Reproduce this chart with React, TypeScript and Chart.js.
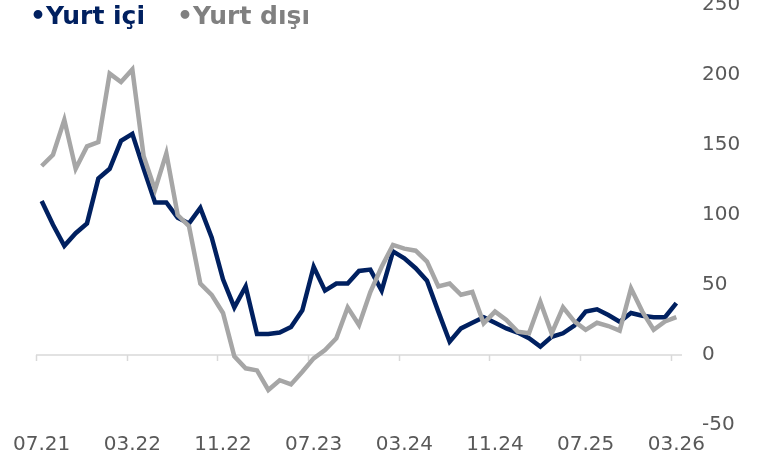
import React, { useEffect, useRef } from "react";
import { Chart, registerables } from "chart.js";

Chart.register(...registerables);

const months: string[] = [
  "07.21", "08.21", "09.21", "10.21", "11.21", "12.21",
  "01.22", "02.22", "03.22", "04.22", "05.22", "06.22", "07.22", "08.22", "09.22", "10.22", "11.22", "12.22",
  "01.23", "02.23", "03.23", "04.23", "05.23", "06.23", "07.23", "08.23", "09.23", "10.23", "11.23", "12.23",
  "01.24", "02.24", "03.24", "04.24", "05.24", "06.24", "07.24", "08.24", "09.24", "10.24", "11.24", "12.24",
  "01.25", "02.25", "03.25", "04.25", "05.25", "06.25", "07.25", "08.25", "09.25", "10.25", "11.25", "12.25",
  "01.26", "02.26", "03.26",
];

const yurtIci: number[] = [
  110, 93, 78, 87, 94, 126, 133, 153, 158, 133, 109, 109, 98, 94, 105, 84, 54, 34, 49, 15,
  15, 16, 20, 32, 63, 46, 51, 51, 60, 61, 46, 74, 69, 62, 53, 31, 9.5, 19, 23, 27,
  23, 19, 16, 12, 6, 13, 15.5, 21, 31, 32.6, 28.5, 23.8, 30, 28, 27, 27, 37,
];

const yurtDisi: number[] = [
  135, 143, 168, 133, 149, 152, 201, 195, 204, 142, 118, 144, 100, 92, 51, 43, 30, -1, -9.5, -11,
  -25, -18, -21, -12, -2.4, 3.6, 12, 34, 21.4, 45, 63, 78.6, 76, 74.5, 66.7, 49, 51, 43, 45, 22.6,
  31, 25, 16.7, 15.5, 38, 15.5, 34, 24, 18, 23, 20.7, 17.4, 47.6, 31, 18, 24, 27,
];

const yTicks: number[] = [-50, 0, 50, 100, 150, 200, 250];
const labelEvery = 8;

const NAVY = "#002060";
const GREY = "#a6a6a6";
const TEXT = "#595959";

const zeroAxisPlugin = {
  id: "zeroAxis",
  beforeDatasetsDraw(chart: any) {
    const { ctx, chartArea, scales } = chart;
    const x = scales.x;
    const y = scales.y;
    const y0 = y.getPixelForValue(0);
    const half = (x.getPixelForValue(1) - x.getPixelForValue(0)) / 2;
    ctx.save();
    ctx.strokeStyle = "#d9d9d9";
    ctx.lineWidth = 1.5;
    ctx.beginPath();
    ctx.moveTo(chartArea.left, y0);
    ctx.lineTo(chartArea.right, y0);
    for (let i = 0; i < months.length; i += labelEvery) {
      const px = Math.round(x.getPixelForValue(i) - half) + 0.5;
      ctx.moveTo(px, y0);
      ctx.lineTo(px, y0 + 6);
    }
    ctx.stroke();
    ctx.restore();
  },
};

export default function App() {
  const ref = useRef<HTMLCanvasElement | null>(null);

  useEffect(() => {
    if (!ref.current) return;
    const chart = new Chart(ref.current, {
      type: "line",
      data: {
        labels: months,
        datasets: [
          {
            label: "Yurt dışı",
            data: yurtDisi,
            borderColor: GREY,
            backgroundColor: GREY,
            borderWidth: 4.5,
            pointRadius: 0,
            tension: 0,
            fill: false,
          },
          {
            label: "Yurt içi",
            data: yurtIci,
            borderColor: NAVY,
            backgroundColor: NAVY,
            borderWidth: 4.5,
            pointRadius: 0,
            tension: 0,
            fill: false,
          },
        ],
      },
      options: {
        animation: false,
        responsive: true,
        maintainAspectRatio: false,
        layout: { padding: { left: 36, right: 0, top: 15, bottom: 0 } },
        plugins: {
          legend: { display: false },
          tooltip: { enabled: false },
        },
        scales: {
          x: {
            type: "category",
            offset: true,
            grid: { display: false, offset: true, drawTicks: false },
            border: { display: false },
            afterFit: (scale: any) => {
              scale.height = 43;
              scale.paddingLeft = 0;
              scale.paddingRight = 0;
            },
            ticks: {
              autoSkip: false,
              maxRotation: 0,
              minRotation: 0,
              padding: 8,
              color: TEXT,
              font: { family: "DejaVu Sans", size: 20 },
              callback: (_v: any, i: number) => (i % labelEvery === 0 ? months[i] : null),
            },
          },
          y: {
            position: "right",
            min: yTicks[0],
            max: yTicks[yTicks.length - 1],
            afterBuildTicks: (scale: any) => {
              scale.ticks = yTicks.map((v) => ({ value: v }));
            },
            afterFit: (scale: any) => {
              scale.width = 102;
              scale.paddingTop = 0;
              scale.paddingBottom = 0;
            },
            grid: { display: false, drawTicks: false },
            border: { display: false },
            ticks: {
              padding: 20,
              color: TEXT,
              font: { family: "DejaVu Sans", size: 20 },
            },
          },
        },
      },
      plugins: [zeroAxisPlugin],
    });
    return () => chart.destroy();
  }, []);

  const base: React.CSSProperties = {
    position: "fixed",
    top: 2,
    fontFamily: "DejaVu Sans",
    fontWeight: "bold",
    fontSize: 25,
    lineHeight: "28px",
    whiteSpace: "pre",
    zIndex: 2,
  };

  return (
    <div>
      <div
        style={{
          position: "fixed",
          left: 0,
          top: -10,
          width: 784,
          height: 478,
          background: "#ffffff",
        }}
      >
        <canvas ref={ref} />
      </div>
      <div style={{ ...base, left: 30, color: NAVY }}>•Yurt içi</div>
      <div style={{ ...base, left: 177, color: "#808080" }}>•Yurt dışı</div>
    </div>
  );
}
